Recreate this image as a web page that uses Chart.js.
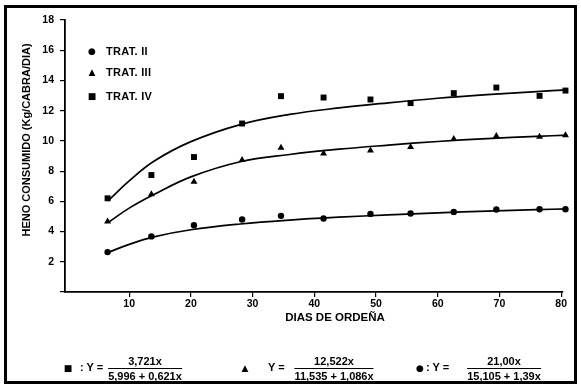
<!DOCTYPE html>
<html><head><meta charset="utf-8">
<script src="https://cdn.jsdelivr.net/npm/chart.js@4"></script>
<style>
html,body{margin:0;padding:0;background:#fff;}
#wrap{position:relative;width:581px;height:386px;overflow:hidden;font-family:"Liberation Sans",Arial,sans-serif;font-weight:bold;color:#000;}
#frame{position:absolute;left:4px;top:5px;width:573px;height:379px;border:3px solid #000;box-sizing:border-box;}
canvas{position:absolute;left:0;top:0;}
.t{position:absolute;white-space:nowrap;line-height:1;}
.ytitle{position:absolute;left:26px;top:140px;transform:translate(-50%,-50%) rotate(-90deg);font-size:11px;white-space:nowrap;}
.leg{position:absolute;font-size:11px;letter-spacing:0.3px;}
.mk{position:absolute;font-family:"DejaVu Sans",sans-serif;transform:translate(-50%,-50%);line-height:1;}
.frac{position:absolute;text-align:center;font-size:11px;transform:translateX(-50%);}
.frac .n{display:block;padding:0 3px 1px 3px;border-bottom:1.5px solid #000;line-height:12px;}
.frac .d{display:block;line-height:12px;padding-top:1px;}
</style></head>
<body>
<div id="wrap">
<canvas id="c" width="581" height="386"></canvas>
<div id="frame"></div>
<div class="ytitle">HENO CONSUMIDO (Kg/CABRA/DIA)</div>
<div class="t" style="left:335px;top:312px;transform:translateX(-50%);font-size:11.5px;">DIAS DE ORDEÑA</div>
<div id="legend"></div>
<div id="eqs"></div>
</div>
<script>
// ---- data ----
const legendLabels = ["TRAT. II", "TRAT. III", "TRAT. IV"];
const days = [6.5, 13.6, 20.5, 28.3, 34.6, 41.5, 49.1, 55.6, 62.6, 69.5, 76.5, 80.7];
const tratII  = [2.64, 3.68, 4.42, 4.80, 5.04, 4.86, 5.17, 5.19, 5.30, 5.46, 5.48, 5.48];
const tratIII = [4.67, 6.47, 7.30, 8.73, 9.55, 9.17, 9.37, 9.59, 10.12, 10.32, 10.28, 10.38];
const tratIV  = [6.20, 7.74, 8.93, 11.15, 12.96, 12.87, 12.74, 12.50, 13.16, 13.53, 12.98, 13.33];
// fitted curves
const fitDays = [6.6, 10, 14, 20, 28, 36, 44, 52, 60, 68, 76, 81];
const fitII   = [2.62, 3.15, 3.65, 4.12, 4.50, 4.76, 4.95, 5.10, 5.24, 5.35, 5.45, 5.50];
const fitIII  = [4.60, 5.55, 6.45, 7.62, 8.62, 9.10, 9.45, 9.72, 9.96, 10.15, 10.30, 10.38];
const fitIV   = [6.05, 7.35, 8.65, 9.95, 11.08, 11.75, 12.18, 12.52, 12.82, 13.06, 13.26, 13.38];
const xTicks = [10, 20, 30, 40, 50, 60, 70, 80];
const equations = [
  {mark:"■", sep:": Y =", num:"3,721x", den:"5,996 + 0,621x"},
  {mark:"▲", sep:"Y =", num:"12,522x", den:"11,535 + 1,086x"},
  {mark:"●", sep:": Y =", num:"21,00x", den:"15,105 + 1,39x"}
];

const pts = (xs, ys) => xs.map((x, i) => ({x: x, y: ys[i]}));
const black = '#000';
const ptDs = (ys, style, r) => ({
  data: pts(days, ys), showLine: false, pointStyle: style, pointRadius: r, pointHoverRadius: r,
  backgroundColor: black, borderColor: black, borderWidth: 0, clip: false
});
const lineDs = (ys) => ({
  data: pts(fitDays, ys), showLine: true, pointRadius: 0, borderColor: black, borderWidth: 1.7,
  tension: 0.4, fill: false, clip: false
});

new Chart(document.getElementById('c'), {
  type: 'scatter',
  data: { datasets: [
    lineDs(fitII), lineDs(fitIII), lineDs(fitIV),
    ptDs(tratII, 'circle', 3.2), ptDs(tratIII, 'triangle', 4), ptDs(tratIV, 'rect', 4.2)
  ]},
  options: {
    responsive: false, animation: false, events: [],
    layout: { padding: { left: 0, top: 20, right: 18, bottom: 0 } },
    plugins: { legend: { display: false }, tooltip: { enabled: false } },
    scales: {
      x: {
        type: 'linear', min: -0.4, max: 80.3,
        afterBuildTicks: s => { s.ticks = xTicks.map(v => ({value: v})); },
        afterFit: s => { s.height = 94; },
        grid: { display: true, drawOnChartArea: false, drawTicks: true, tickLength: 5, color: black, lineWidth: 1.2 },
        border: { display: true, color: black, width: 1.8 },
        ticks: { color: black, padding: 1, font: { family: 'Liberation Sans', size: 10.5, weight: 'bold' }, maxRotation: 0 }
      },
      y: {
        type: 'linear', min: 0, max: 18,
        afterFit: s => { s.width = 65; },
        grid: { display: true, drawOnChartArea: false, drawTicks: true, tickLength: 5, color: black, lineWidth: 1.2 },
        border: { display: true, color: black, width: 1.8 },
        ticks: { stepSize: 2, color: black, padding: 6,
          callback: v => v === 0 ? '' : v,
          font: { family: 'Liberation Sans', size: 10.5, weight: 'bold' } }
      }
    }
  }
});

// legend (HTML text)
const legPos = [{y:51, m:"●", fs:9}, {y:72, m:"▲", fs:9}, {y:96, m:"■", fs:9}];
const legEl = document.getElementById('legend');
legendLabels.forEach((lab, i) => {
  const p = legPos[i];
  legEl.insertAdjacentHTML('beforeend',
    `<div class="mk" style="left:92px;top:${p.y}px;font-size:${p.fs}px;">${p.m}</div>` +
    `<div class="leg" style="left:106px;top:${p.y - 6}px;">${lab}</div>`);
});

// equations (HTML text)
const eqPos = [
  {mk:68, sep:80, fc:145, top:355},
  {mk:245, sep:268, fc:334, top:355},
  {mk:420, sep:426, fc:504, top:355}
];
const eqEl = document.getElementById('eqs');
equations.forEach((e, i) => {
  const p = eqPos[i];
  eqEl.insertAdjacentHTML('beforeend',
    `<div class="mk" style="left:${p.mk}px;top:368px;font-size:9px;">${e.mark}</div>` +
    `<div class="t" style="left:${p.sep}px;top:362px;font-size:11px;">${e.sep}</div>` +
    `<div class="frac" style="left:${p.fc}px;top:${p.top}px;"><span class="n">${e.num}</span><span class="d">${e.den}</span></div>`);
});
</script>
</body></html>
